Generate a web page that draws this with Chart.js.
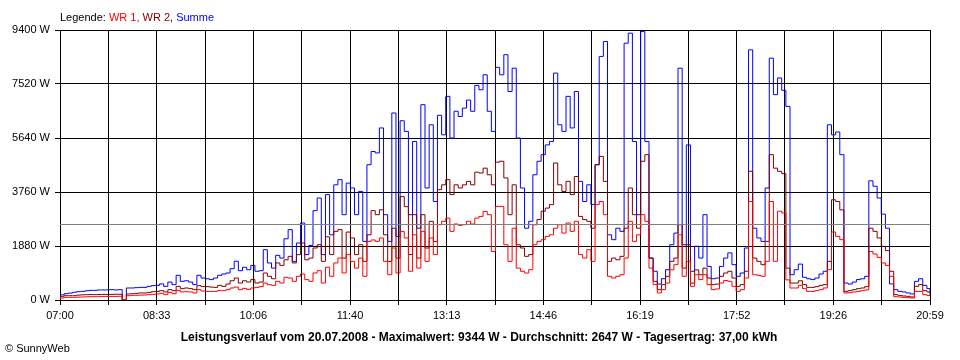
<!DOCTYPE html>
<html>
<head>
<meta charset="utf-8">
<script src="https://cdn.jsdelivr.net/npm/chart.js@4.4.1/dist/chart.umd.min.js"></script>
<style>
  html, body { margin: 0; padding: 0; background: #fff; }
  #wrap { width: 960px; height: 360px; position: relative; }
</style>
</head>
<body>
<div id="wrap"><canvas id="power-chart"></canvas></div>
<script>
// time axis: samples every 4 minutes from 07:00, last sample 20:59
const startMinute = 420;
const stepMinutes = 4;
const endMinute = 1259;
const timeLabels = ["07:00", "08:33", "10:06", "11:40", "13:13", "14:46", "16:19", "17:52", "19:26", "20:59"];
const yTicks = [0, 1880, 3760, 5640, 7520, 9400];

// Summe (W)
const summe = [
  180,220,240,270,290,300,320,335,335,350,
  350,350,360,350,360,0,418,418,430,440,
  440,475,500,510,560,475,625,535,860,650,
  670,625,535,860,765,740,710,765,860,905,
  940,1090,1350,1020,1140,1055,1205,1000,1020,1750,
  1290,1110,1555,1460,2130,2450,1345,1985,2680,1580,
  1900,3110,3550,1580,3670,2270,4010,4190,2970,4070,
  3900,2970,3780,2040,4710,5170,5120,5990,2970,2040,
  6510,2215,6240,5870,2970,5520,2500,6800,3900,6100,
  3430,6430,5750,7090,5640,6570,6390,6680,6960,6570,
  7470,7320,7840,6570,5870,8100,7840,8540,7260,8070,
  5640,3900,2500,2740,4360,4830,5060,5400,5520,7900,
  6100,5870,7090,5990,7260,4130,3430,4010,3320,4710,
  8480,9000,2270,2100,2500,2390,8940,9290,5520,2970,
  9344,5520,1460,1000,555,740,1055,1925,2330,8070,
  1925,5400,1000,1870,1460,2970,1170,740,765,1170,
  1460,1640,1230,825,940,1810,8710,2500,2160,2040,
  3900,8420,7150,7730,7300,6740,880,1055,1250,790,
  740,710,765,905,1000,6100,5750,5850,5060,590,
  555,625,710,740,825,4150,3960,3550,2990,2500,
  560,360,300,280,245,210,650,740,510,395,
  245
];

// WR 2 (W)
const wr2 = [
  128,150,150,150,170,180,185,190,185,190,
  195,190,195,200,200,0,210,220,232,245,
  245,265,290,300,325,280,360,325,475,395,
  418,395,360,500,465,465,450,440,510,475,
  555,670,765,590,670,625,710,590,625,940,
  825,740,1290,1205,1400,1520,1290,1580,1985,1400,
  1460,1810,1925,1345,2200,1580,2390,2450,1460,2365,
  2160,1580,1925,1345,2270,3110,2970,3140,2270,1345,
  2500,1460,3600,3250,1580,2970,1460,2970,1810,2740,
  2040,3840,4010,4190,3670,4010,3900,4010,4130,4010,
  4450,4420,4590,4360,4010,4800,4830,4250,2970,4010,
  1925,1810,1520,1580,2620,2800,3090,3200,3320,4770,
  4010,3780,4130,3670,4300,2910,2800,2740,2500,4710,
  5000,4130,1345,1460,1400,1520,2500,3900,2970,2500,
  4830,5060,1460,650,360,535,825,1345,1460,2620,
  1110,1925,590,1050,880,1110,765,535,555,825,
  940,1000,765,475,535,1000,4480,1460,1345,1230,
  2040,5060,4590,4480,4400,1110,590,590,670,535,
  440,440,465,510,535,1345,3490,3430,3140,300,
  325,360,395,418,465,2500,2390,2160,1870,1720,
  1000,185,162,140,128,104,475,535,325,280,
  185
];

// WR 1 (W)
const wr1 = [
  70,93,93,93,100,105,110,116,116,116,
  120,120,125,125,130,0,150,160,165,170,
  175,185,197,210,232,185,265,220,335,280,
  290,280,245,360,313,300,300,300,335,325,
  360,418,450,360,405,370,418,440,465,590,
  535,510,650,590,790,765,650,825,905,710,
  650,940,1020,590,1140,825,1290,1460,940,1580,
  1345,1110,1460,825,2040,2090,2040,2160,1345,880,
  1810,940,2390,2160,1000,2270,1110,2390,1345,2160,
  1580,2620,2740,2850,2390,2645,2600,2620,2740,2645,
  2850,2910,3085,2970,1690,3260,3260,1925,1345,2500,
  1110,1000,940,1055,1925,2040,2100,2215,2270,2500,
  2620,2330,2680,2390,2740,1580,1460,1750,1345,3320,
  3430,2970,825,765,825,880,1460,2740,2040,2270,
  2970,2740,1110,535,245,360,590,1050,1230,2270,
  825,1345,475,880,710,880,535,360,385,590,
  680,650,475,300,360,765,3430,880,860,825,
  1345,3430,1345,3090,3030,700,418,418,510,395,
  300,300,325,360,418,1055,2365,2215,2100,245,
  255,280,300,325,350,1690,1600,1485,1290,1205,
  825,116,104,93,80,70,300,300,185,160,
  128
];

const reportDate = "20.07.2008";
const maxWatts = 9344;
const avgWatts = 2647;
const dailyYield = "37,00";

// x positions of the samples (minutes since midnight)
const minutes = summe.map((v, i) => i === summe.length - 1 ? endMinute : startMinute + i * stepMinutes);
const toPoints = arr => arr.map((v, i) => ({ x: minutes[i], y: v }));

const fontFamily = "'Liberation Sans', Arial, sans-serif";
Chart.defaults.font.family = fontFamily;
Chart.defaults.font.size = 11;
Chart.defaults.color = "#000";

const textPlugin = {
  id: "texts",
  afterDraw(chart) {
    const c = chart.ctx;
    const area = chart.chartArea;
    // average line
    const yAvg = Math.round(chart.scales.y.getPixelForValue(avgWatts)) + 0.5;
    c.save();
    c.strokeStyle = "#808080";
    c.lineWidth = 1;
    c.beginPath();
    c.moveTo(area.left, yAvg);
    c.lineTo(area.right, yAvg);
    c.stroke();

    // legend
    c.font = "11px " + fontFamily;
    c.textBaseline = "alphabetic";
    c.textAlign = "left";
    let x = 60;
    const parts = [["Legende: ", "#000"], ["WR 1, ", "#ff0000"], ["WR 2, ", "#800000"], ["Summe", "#0000ff"]];
    parts.forEach(p => {
      c.fillStyle = p[1];
      c.fillText(p[0], x, 21);
      x += c.measureText(p[0]).width;
    });

    // footer
    c.fillStyle = "#000";
    c.font = "bold 12px " + fontFamily;
    c.textAlign = "center";
    c.fillText("Leistungsverlauf vom " + reportDate + " - Maximalwert: " + maxWatts + " W - Durchschnitt: " +
      avgWatts + " W - Tagesertrag: " + dailyYield + " kWh", 479, 341);
    c.font = "11px " + fontFamily;
    c.textAlign = "left";
    c.fillText("\u00a9 SunnyWeb", 5, 352);
    c.restore();
  }
};

const lineSet = (label, arr, color, order) => ({
  label: label,
  data: toPoints(arr),
  borderColor: color,
  backgroundColor: color,
  borderWidth: 1,
  pointRadius: 0,
  stepped: true,
  fill: false,
  order: order
});

new Chart(document.getElementById("power-chart"), {
  type: "line",
  data: {
    datasets: [
      lineSet("WR 1", wr1, "#ff0000", 0),
      lineSet("WR 2", wr2, "#800000", 1),
      lineSet("Summe", summe, "#0000ff", 2)
    ]
  },
  options: {
    responsive: true,
    maintainAspectRatio: false,
    animation: false,
    events: [],
    layout: { padding: { left: 0, right: 30, top: 30, bottom: 40 } },
    plugins: { legend: { display: false }, tooltip: { enabled: false } },
    scales: {
      x: {
        type: "linear",
        min: startMinute,
        max: endMinute,
        z: 1,
        afterBuildTicks: scale => {
          const ticks = [];
          for (let k = 0; k <= 18; k++) ticks.push({ value: startMinute + k * (endMinute - startMinute) / 18 });
          scale.ticks = ticks;
        },
        afterFit: scale => { scale.height = 20; },
        ticks: {
          autoSkip: false,
          maxRotation: 0,
          padding: 4,
          callback: (v, i) => i % 2 === 0 ? timeLabels[i / 2] : ""
        },
        grid: { color: "#000", lineWidth: 1, tickLength: 5, drawTicks: true },
        border: { color: "#000" }
      },
      y: {
        min: 0,
        max: 9400,
        z: 1,
        afterBuildTicks: scale => { scale.ticks = yTicks.map(v => ({ value: v })); },
        afterFit: scale => { scale.width = 60; },
        ticks: { padding: 5, callback: v => v + " W" },
        grid: { color: "#000", lineWidth: 1, tickLength: 5, drawTicks: true },
        border: { color: "#000" }
      }
    }
  },
  plugins: [textPlugin]
});
</script>
</body>
</html>
